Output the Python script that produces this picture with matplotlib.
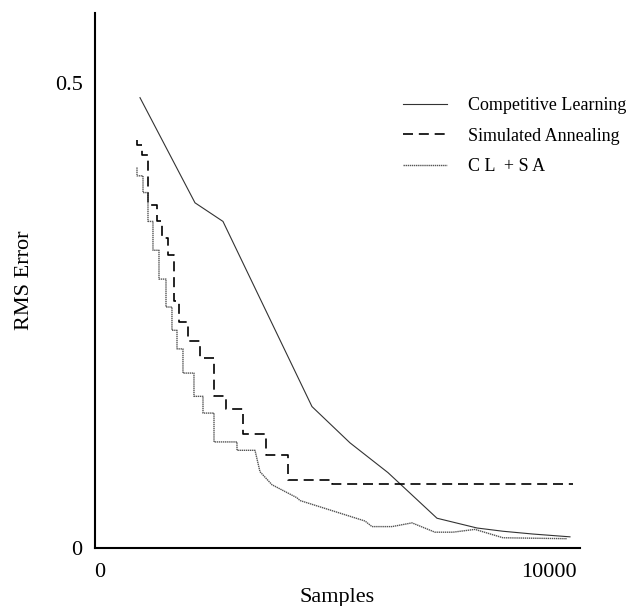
import numpy as np
import matplotlib
matplotlib.use("Agg")
import matplotlib.pyplot as plt

plt.rcParams['font.family'] = ['Liberation Serif', 'DejaVu Serif']

# Competitive Learning (plain line)
cl_x = [891, 2116, 2739, 4721, 5568, 6414, 7505, 8396, 8975, 9643, 10467]
cl_y = [0.484, 0.371, 0.351, 0.152, 0.113, 0.081, 0.032, 0.0215, 0.018, 0.015, 0.012]

# Simulated Annealing (step levels, each level starts at the given sample)
sa_x = [824, 824, 935, 1069, 1269, 1381, 1514, 1648, 1759, 1960, 2227, 2539,
        2806, 3185, 3697, 4187, 5167, 10534]
sa_y = [0.439, 0.433, 0.422, 0.369, 0.351, 0.333, 0.315, 0.265, 0.243, 0.222,
        0.204, 0.163, 0.149, 0.122, 0.100, 0.073, 0.069, 0.069]

# CL + SA: stepped start, then a plain line
clsa_step_x = [824, 824, 958, 1069, 1180, 1314, 1470, 1603, 1715, 1848, 2093,
               2294, 2539, 3051, 3452]
clsa_step_y = [0.409, 0.400, 0.382, 0.351, 0.320, 0.289, 0.259, 0.234, 0.214,
               0.188, 0.163, 0.145, 0.114, 0.105, 0.105]
clsa_tail_x = [3563, 3830, 4387, 4454, 5902, 6057, 6503, 6948, 7460, 7861,
               8351, 8975, 10400]
clsa_tail_y = [0.082, 0.068, 0.054, 0.051, 0.029, 0.023, 0.023, 0.027, 0.017,
               0.017, 0.020, 0.011, 0.010]

labels = ["Competitive Learning", "Simulated Annealing", "C L  + S A"]


def step_path(xs, ys):
    # horizontal then vertical, like steps-post
    px, py = [xs[0]], [ys[0]]
    for i in range(1, len(xs)):
        px.append(xs[i])
        py.append(ys[i - 1])
        px.append(xs[i])
        py.append(ys[i])
    return px, py


fig = plt.figure(figsize=(6.34, 6.06), dpi=100)
ax = fig.add_axes([95 / 634, 1 - 548 / 606, 485 / 634, 535 / 606])

ax.plot(cl_x, cl_y, color="#333333", lw=0.8, label=labels[0])

sx, sy = step_path(sa_x, sa_y)
ax.plot(sx, sy, color="black", lw=1.2, linestyle=(0, (6, 3.5)), label=labels[1])

cx, cy = step_path(clsa_step_x, clsa_step_y)
cx = cx + clsa_tail_x
cy = cy + clsa_tail_y
ax.plot(cx, cy, color="#555555", lw=1.0, linestyle=(0, (1, 0.5)), label=labels[2])

ax.set_xlim(-111, 10690)
ax.set_ylim(0, 0.575)
ax.set_xticks([0, 10000])
ax.set_xticklabels(["0", "10000"])
ax.set_yticks([0, 0.5])
ax.set_yticklabels(["0", "0.5"])
ax.tick_params(length=0, labelsize=16, pad=9)
ax.tick_params(axis="x", pad=11)

for side in ["top", "right"]:
    ax.spines[side].set_visible(False)
for side in ["left", "bottom"]:
    ax.spines[side].set_linewidth(1.5)

ax.set_xlabel("Samples", fontsize=16, labelpad=4)
ax.set_ylabel("RMS Error", fontsize=16, labelpad=15)

ax.legend(loc="upper left", bbox_to_anchor=(387 / 634, 1 - 81 / 606),
          bbox_transform=fig.transFigure, frameon=False, fontsize=13,
          handlelength=2.4, handletextpad=1.2, labelspacing=0.75)

fig.savefig("out.png", dpi=100)
